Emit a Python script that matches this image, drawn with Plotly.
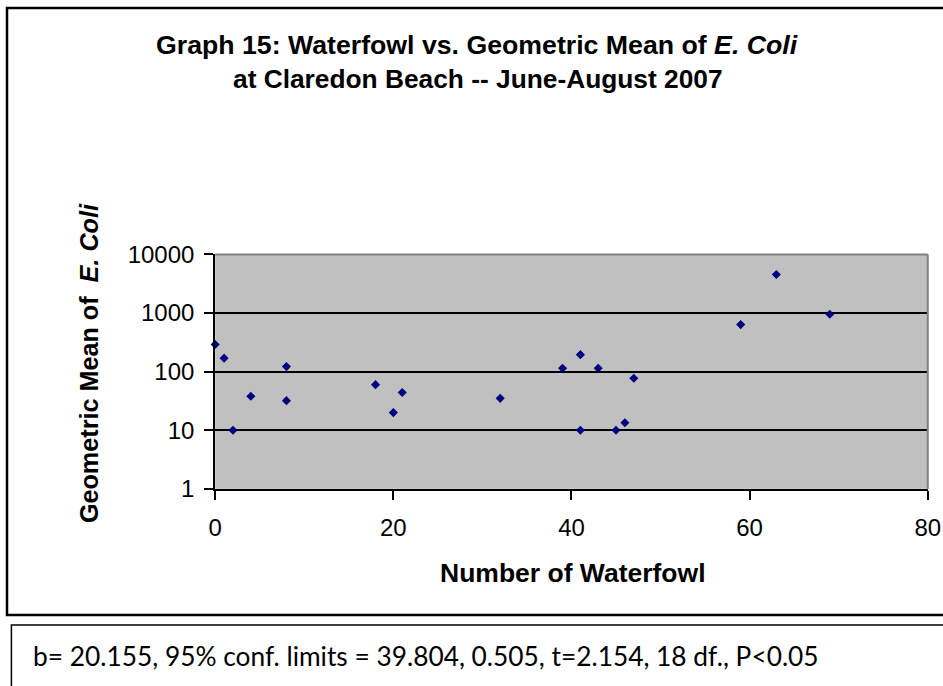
import plotly.graph_objects as go

W, H = 943, 686

waterfowl = [0, 1, 2, 4, 8, 8, 18, 20, 21, 32, 39, 41, 41, 43, 45, 46, 47, 59, 63, 69]
ecoli_gm = [290, 170, 10, 38, 122, 32, 60, 20, 44, 35, 114, 195, 10, 114, 10, 13.4, 77, 635, 4560, 955]

y_ticks = [1, 10, 100, 1000, 10000]
y_tick_text = ["1", "10", "100", "1000", "10000"]
x_ticks = [0, 20, 40, 60, 80]

title_line1 = "<b>Graph 15: Waterfowl vs. Geometric Mean of <i>E. Coli</i></b>"
title_line2 = "<b>at Claredon Beach -- June-August 2007</b>"
x_title = "<b>Number of Waterfowl</b>"
y_title = "<b>Geometric Mean of  <i>E. Coli</i></b>"
stats_text = "b= 20.155, 95% conf. limits = 39.804, 0.505, t=2.154, 18 df., P<0.05"

# layout positions (page pixels)
PL, PR, PT, PB = 212.7, 940.7, 250.3, 494.3

def px(x):
    return x / W

def py(y):
    return 1 - y / H

fig = go.Figure()
fig.add_trace(go.Scatter(
    x=waterfowl, y=ecoli_gm, mode="markers",
    marker=dict(symbol="diamond", size=7, color="#000080", line=dict(width=0)),
    showlegend=False, cliponaxis=False,
))

SANS = "Liberation Sans, Arial, sans-serif"
axis_font = dict(family=SANS, size=24, color="black")

fig.update_layout(
    width=W, height=H,
    margin=dict(l=0, r=0, t=0, b=0),
    paper_bgcolor="white",
    plot_bgcolor="#C0C0C0",
    xaxis=dict(
        domain=[px(PL), px(PR)],
        range=[0, 80], tickvals=x_ticks,
        showgrid=False, zeroline=False,
        showline=True, linecolor="black", linewidth=2,
        ticks="outside", ticklen=9, tickwidth=2, tickcolor="black",
        tickfont=axis_font, ticklabelstandoff=7, ticklabeloverflow="allow",
    ),
    yaxis=dict(
        domain=[py(PB), py(PT)],
        type="log", range=[0, 4],
        tickvals=y_ticks, ticktext=y_tick_text,
        showgrid=True, gridcolor="black", gridwidth=2,
        zeroline=False,
        showline=True, linecolor="black", linewidth=2,
        ticks="outside", ticklen=9, tickwidth=2, tickcolor="black",
        tickfont=axis_font, ticklabelstandoff=5,
    ),
    shapes=[
        # outer chart box
        dict(type="rect", xref="paper", yref="paper",
             x0=px(0), x1=px(990), y0=py(625.6), y1=py(-6.3),
             line=dict(color="black", width=2.5), layer="below"),
        # stats box
        dict(type="rect", xref="paper", yref="paper",
             x0=px(4.5), x1=px(990), y0=py(730), y1=py(636),
             line=dict(color="black", width=1.5), layer="below"),
        # plot area grey frame (top & right)
        dict(type="line", xref="paper", yref="paper",
             x0=px(PL), x1=px(PR), y0=py(PT), y1=py(PT),
             line=dict(color="#808080", width=2), layer="above"),
        dict(type="line", xref="paper", yref="paper",
             x0=px(PR), x1=px(PR), y0=py(PT), y1=py(PB),
             line=dict(color="#808080", width=2), layer="above"),
    ],
    annotations=[
        dict(text=title_line1, xref="paper", yref="paper", x=px(480.6), y=py(32.3),
             showarrow=False, xanchor="center", yanchor="middle",
             font=dict(family=SANS, size=26.7, color="black")),
        dict(text=title_line2, xref="paper", yref="paper", x=px(481.6), y=py(67.8),
             showarrow=False, xanchor="center", yanchor="middle",
             font=dict(family=SANS, size=26.3, color="black")),
        dict(text=x_title, xref="paper", yref="paper", x=px(578.7), y=py(581.9),
             showarrow=False, xanchor="center", yanchor="middle",
             font=dict(family=SANS, size=26.5, color="black")),
        dict(text=y_title, xref="paper", yref="paper", x=px(83.3), y=py(363.9),
             showarrow=False, xanchor="center", yanchor="middle", textangle=-90,
             font=dict(family=SANS, size=25.2, color="black")),
        dict(text=stats_text, xref="paper", yref="paper", x=px(24.5), y=py(668.4),
             showarrow=False, xanchor="left", yanchor="middle",
             font=dict(family="Lato, Carlito, Calibri, sans-serif", size=26.3, color="black")),
    ],
)

fig.write_html(
    "out.html",
    config={"displayModeBar": False},
    post_script="document.body.style.margin='0';document.body.style.overflow='hidden';",
)
